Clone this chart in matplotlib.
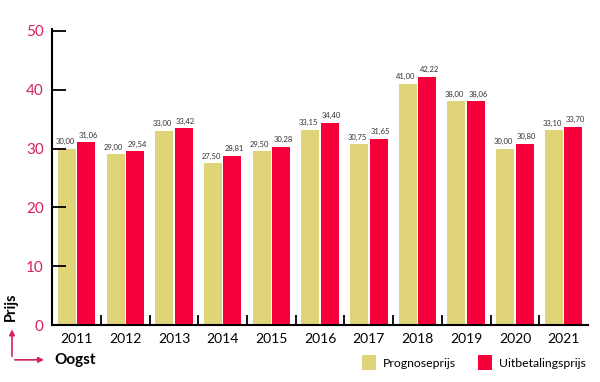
import numpy as np
import matplotlib.pyplot as plt

plt.rcParams['font.family'] = ['Lato', 'DejaVu Sans']

years = ['2011', '2012', '2013', '2014', '2015', '2016', '2017', '2018', '2019', '2020', '2021']
prognose = [30.00, 29.00, 33.00, 27.50, 29.50, 33.15, 30.75, 41.00, 38.00, 30.00, 33.10]
uitbetaling = [31.06, 29.54, 33.42, 28.81, 30.28, 34.40, 31.65, 42.22, 38.06, 30.80, 33.70]

yellow = '#e0d478'
red = '#f5003a'
pink = '#d6215c'

fig = plt.figure(figsize=(6, 3.82), dpi=100)
ax = fig.add_axes([0.087, 0.149, 0.893, 0.775])

x = np.arange(len(years))
w = 0.37
gap = 0.03
b1 = ax.bar(x - w / 2 - gap / 2, prognose, w, color=yellow, label='Prognoseprijs')
b2 = ax.bar(x + w / 2 + gap / 2, uitbetaling, w, color=red, label='Uitbetalingsprijs')

for bars, vals, dx in [(b1, prognose, -0.04), (b2, uitbetaling, 0.04)]:
    for b, v in zip(bars, vals):
        ax.text(b.get_x() + b.get_width() / 2 + dx, v + 0.6, f'{v:.2f}'.replace('.', ','),
                ha='center', va='bottom', fontsize=5.5, color='#333333')

ax.set_xlim(-0.5, 10.5)
ax.set_ylim(0, 50.3)
ax.set_yticks([0, 10, 20, 30, 40, 50])
ax.tick_params(axis='y', direction='in', length=10, width=1.3, labelsize=11,
               labelcolor=pink, pad=6)
ax.set_xticks(x)
ax.set_xticklabels(years)
ax.tick_params(axis='x', which='major', length=0, labelsize=10, pad=6)
ax.set_xticks(x[:-1] + 0.5, minor=True)
ax.tick_params(axis='x', which='minor', direction='in', length=7, width=1.3)

for s in ['top', 'right']:
    ax.spines[s].set_visible(False)
for s in ['left', 'bottom']:
    ax.spines[s].set_linewidth(1.5)

# axis hints in bottom-left corner
fig.text(0.018, 0.16, 'Prijs', rotation=90, fontsize=10.5, fontweight='bold',
         ha='center', va='bottom')
fig.text(0.09, 0.058, 'Oogst', fontsize=11, fontweight='bold', ha='left', va='center')
fig.add_artist(plt.matplotlib.patches.FancyArrowPatch(
    (0.02, 0.06), (0.02, 0.145), transform=fig.transFigure,
    arrowstyle='-|>', mutation_scale=8, color=pink, lw=1.2))
fig.add_artist(plt.matplotlib.patches.FancyArrowPatch(
    (0.02, 0.058), (0.078, 0.058), transform=fig.transFigure,
    arrowstyle='-|>', mutation_scale=8, color=pink, lw=1.2))

fig.legend(handles=[b1, b2], loc='center right', bbox_to_anchor=(0.995, 0.05),
           ncol=2, frameon=False, fontsize=8.8, handlelength=1.1, handleheight=1.5,
           columnspacing=1.8, handletextpad=0.6)

fig.savefig('out.png', dpi=100)
